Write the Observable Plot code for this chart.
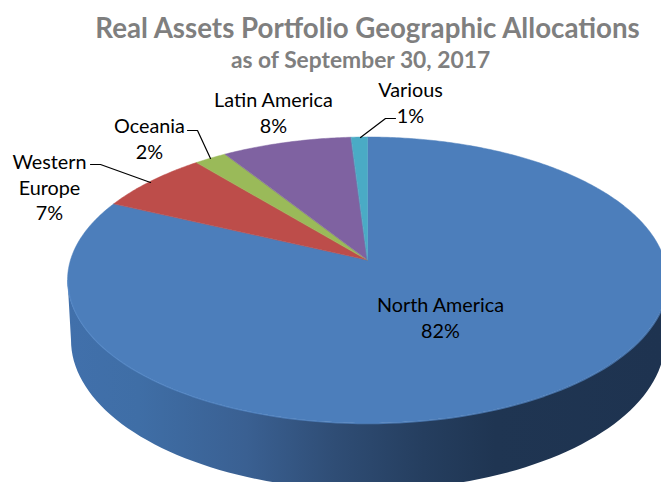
<!DOCTYPE html>
<html>
<head>
<meta charset="utf-8">
<script src="https://cdn.jsdelivr.net/npm/d3@7"></script>
<script src="https://cdn.jsdelivr.net/npm/@observablehq/plot@0.6"></script>
<style>
  html, body { margin: 0; padding: 0; background: #fff; overflow: hidden; }
  svg { display: block; }
</style>
</head>
<body>
<div id="chart"></div>
<script>
const regions = ["North America", "Western Europe", "Oceania", "Latin America", "Various"];
const shares = [82, 7, 2, 8, 1];
const sliceColors = ["#4c7ebb", "#bd4d4a", "#9aba59", "#7f62a1", "#4aabc5"];
const labelTexts = ["North America\n82%", "Western\nEurope\n7%", "Oceania\n2%", "Latin America\n8%", "Various\n1%"];
const titleText = "Real Assets Portfolio Geographic Allocations";
const subtitleText = "as of September 30, 2017";

// layout, in picture pixels
const W = 661, H = 482;
const pie = {cx: 367.5, cy: 260, A: 297, B: 140.2, k: 0.14};
const base = {cx: 368, cy: 340, rx: 297, ry: 150};
const labelSpots = [[440, 316], [49, 186], [149, 137], [273, 111], [410, 101]];
const leaders = [
  [[90, 164], [100, 164], [150, 182]],
  [[187, 130], [197, 130], [210, 158]],
  [[395, 118], [385, 118], [360, 137]]
];

const project = (a) => {
  const u = Math.sin(a), v = -Math.cos(a), w = 1 - pie.k * v;
  return [pie.cx + pie.A * u / w, pie.cy + pie.B * v / w];
};

const arcs = d3.pie().sort(null)(shares);
const wedgeRows = arcs.flatMap((arc, i) => {
  const n = Math.max(4, Math.ceil((arc.endAngle - arc.startAngle) * 90));
  return d3.range(n + 1).map((j) => {
    const [x, y] = project(arc.startAngle + (arc.endAngle - arc.startAngle) * j / n);
    return {name: regions[i], x, y, x0: pie.cx, y0: pie.cy};
  });
});

// The wall: the front half of the rim, from the left extreme round to the right one.
const topMid = (pie.cy + pie.B / (1 - pie.k) + pie.cy - pie.B / (1 + pie.k)) / 2;
const topRy = (pie.B / (1 - pie.k) + pie.B / (1 + pie.k)) / 2;
const topRx = pie.A / Math.sqrt(1 - pie.k * pie.k);
const wallRows = d3.range(0, 181, 2).map((d) => {
  const t = d * Math.PI / 180;
  return {
    x1: pie.cx - topRx * Math.cos(t), y1: topMid + topRy * Math.sin(t),
    x2: base.cx - base.rx * Math.cos(t), y2: base.cy + base.ry * Math.sin(t)
  };
});

const labelRows = labelTexts.map((text, i) => ({text, x: labelSpots[i][0], y: labelSpots[i][1]}));
const leaderRows = leaders.flatMap((pts, i) => pts.map(([x, y]) => ({id: i, x, y})));

const gradient = () => {
  const svg = d3.create("svg:g");
  const g = svg.append("defs").append("linearGradient")
    .attr("id", "wall").attr("gradientUnits", "userSpaceOnUse")
    .attr("x1", 68).attr("x2", 661).attr("y1", 0).attr("y2", 0);
  [[0, "#4170ab"], [0.12, "#3f6ea6"], [0.3, "#3a6092"], [0.45, "#2f4d75"],
   [0.6, "#253e5f"], [0.72, "#1f3552"], [1, "#1e3350"]].forEach(([o, c]) =>
    g.append("stop").attr("offset", o).attr("stop-color", c));
  return svg.node();
};

const chart = Plot.plot({
  width: W, height: H,
  margin: 0,
  x: {domain: [0, W], range: [0, W], axis: null},
  y: {domain: [H, 0], range: [H, 0], axis: null},
  color: {domain: regions, range: sliceColors},
  style: {fontFamily: "Lato, sans-serif", background: "#fff"},
  marks: [
    gradient,
    Plot.area(wallRows, {x1: "x1", y1: "y1", x2: "x2", y2: "y2", fill: "url(#wall)"}),
    Plot.area(wedgeRows, {x1: "x0", y1: "y0", x2: "x", y2: "y", z: "name", fill: "name", stroke: "name", strokeWidth: 0.5}),
    Plot.line(wallRows, {x: "x1", y: "y1", stroke: "#5488c6", strokeWidth: 1.4, strokeOpacity: 0.7}),
    Plot.line(leaderRows, {x: "x", y: "y", z: "id", stroke: "#000", strokeWidth: 1.2}),
    Plot.text(labelRows, {x: "x", y: "y", text: "text", fontSize: 19.8, lineHeight: 1.3, fill: "#000"}),
    Plot.text([titleText], {x: () => 367, y: () => 29, text: (d) => d, fontSize: 27.7, fontWeight: 700, fill: "#7f7f7f"}),
    Plot.text([subtitleText], {x: () => 360, y: () => 60, text: (d) => d, fontSize: 22.8, fontWeight: 700, fill: "#7f7f7f"})
  ]
});
document.getElementById("chart").appendChild(chart);
</script>
</body>
</html>
